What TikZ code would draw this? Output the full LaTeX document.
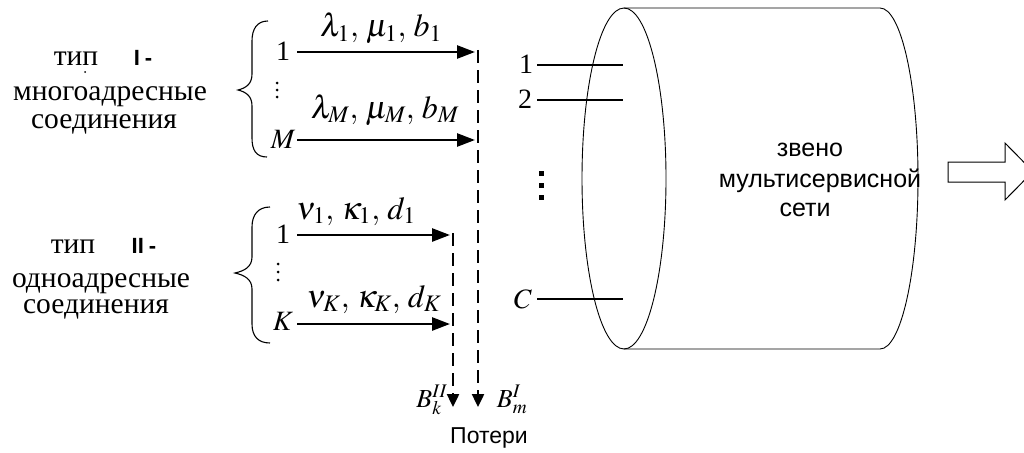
\documentclass[tikz,border=0pt]{standalone}
\usepackage{mathptmx}
\usepackage{fontspec}
\setmainfont{Liberation Serif}
\setsansfont{Liberation Sans}
\usetikzlibrary{arrows.meta}
\tikzset{
  txt/.style={font=\fontsize{29.5}{29.5}\selectfont, inner sep=0pt, anchor=base},
  roman/.style={font=\sffamily\bfseries\fontsize{22}{22}\selectfont, inner sep=0pt, anchor=base},
  mlabel/.style={font=\fontsize{32}{32}\selectfont, inner sep=0pt, anchor=base},
  num/.style={font=\fontsize{28}{28}\selectfont, inner sep=0pt, anchor=base},
  blabel/.style={font=\fontsize{26}{26}\selectfont, inner sep=0pt, anchor=base},
  stxt/.style={font=\sffamily\fontsize{25}{25}\selectfont, inner sep=0pt, anchor=base},
  flow/.style={line width=2.6pt, -{Triangle[length=18pt,width=13pt]}},
  loss/.style={line width=2.4pt, dash pattern=on 13pt off 7pt, -{Triangle[length=13pt,width=12pt]}},
  channel/.style={line width=2.8pt},
  bracepath/.style={line width=1.1pt},
  dotmark/.style={fill=black}
}
\begin{document}
\begin{tikzpicture}[x=1pt,y=-1pt]
\useasboundingbox (0,0) rectangle (1024,452);
\fill[white] (0,0) rectangle (1024,452);

% --- type I text
\node[txt] (t1a) at (76,65) {тип};
\node[roman] (t1b) at (143,65) {I\kern5pt-};
\node[txt] (t1c) at (110,100) {многоадресные};
\node[txt] (t1d) at (104,128) {соединения};
\fill (85,72) circle (1);

% --- type II text
\node[txt] (t2a) at (73,253) {тип};
\node[roman] (t2b) at (144,253) {II\kern5pt-};
\node[txt] (t2c) at (101,287) {одноадресные};
\node[txt] (t2d) at (96,313) {соединения};

% --- braces
\draw[bracepath] (268,21) .. controls (257,21) and (252,29) .. (252,41) -- (252,74)
  .. controls (252,84) and (246,88) .. (238,90)
  .. controls (246,92) and (252,96) .. (252,106) -- (252,138)
  .. controls (252,150) and (256,157) .. (267,157);
\draw[bracepath] (270,207) .. controls (258,207) and (252,215) .. (252,227) -- (252,257)
  .. controls (252,267) and (244,271) .. (235,273)
  .. controls (244,275) and (252,279) .. (252,289) -- (252,324)
  .. controls (252,336) and (258,343) .. (270,343);

% --- type I flows
\node[num] (n11) at (283,60) {1};
\node[num] (n1M) at (283,148) {$M$};
\coordinate (a1s) at (297,52);
\coordinate (a1e) at (475,52);
\coordinate (aMs) at (297,140);
\coordinate (aMe) at (475,140);
\draw[flow] (a1s) -- (a1e);
\draw[flow] (aMs) -- (aMe);
\node[mlabel] (l1) at (381,37) {$\lambda_1,\,\mu_1,\,b_1$};
\node[mlabel] (lM) at (385,118) {$\lambda_M,\,\mu_M,\,b_M$};
\foreach \yy in {83,90,97} \fill[dotmark] (277,\yy) circle (1.5);

% --- type II flows
\node[num] (n21) at (283,243) {1};
\node[num] (n2K) at (283,330) {$K$};
\coordinate (b1s) at (297,235);
\coordinate (b1e) at (450,235);
\coordinate (bKs) at (297,324);
\coordinate (bKe) at (450,324);
\draw[flow] (b1s) -- (b1e);
\draw[flow] (bKs) -- (bKe);
\node[mlabel] (v1) at (356,219) {$\nu_1,\,\kappa_1,\,d_1$};
\node[mlabel] (vK) at (374,307) {$\nu_K,\,\kappa_K,\,d_K$};
\foreach \yy in {264,272,280} \fill[dotmark] (278,\yy) circle (1.5);

% --- loss lines
\coordinate (d1t) at (478,50);
\coordinate (d1b) at (478,407);
\coordinate (d2t) at (453,233);
\coordinate (d2b) at (453,407);
\draw[loss] (d1t) -- (d1b);
\draw[loss] (d2t) -- (d2b);
\node[blabel] (bII) at (432,407) {$B_k^{II}$};
\node[blabel] (bI) at (512,407) {$B_m^{I}$};
\node[font=\sffamily\fontsize{23}{23}\selectfont, inner sep=0pt, anchor=base] (loss) at (489,443) {Потери};

% --- cylinder
\draw[line width=0.9pt] (624,178.5) ellipse [x radius=42, y radius=170.5];
\draw[line width=0.9pt] (624,8) -- (880,8) arc[start angle=-90, end angle=90, x radius=38, y radius=170.5] -- (624,349);
\node[stxt] (z1) at (810,156) {звено};
\node[stxt] (z2) at (820,187) {мультисервисной};
\node[stxt] (z3) at (805,216) {сети};

% --- channels
\node[num] (c1) at (526,73) {1};
\node[num] (c2) at (525,108) {2};
\node[num] (cC) at (523,308) {$C$};
\coordinate (c1s) at (537,65); \coordinate (c1e) at (623,65);
\coordinate (c2s) at (537,100); \coordinate (c2e) at (623,100);
\coordinate (cCs) at (537,299); \coordinate (cCe) at (623,299);
\draw[channel] (c1s) -- (c1e);
\draw[channel] (c2s) -- (c2e);
\draw[channel] (cCs) -- (cCe);
\foreach \yy in {173,185,197} \fill[dotmark] (538.5,\yy-2.5) rectangle (543.5,\yy+2.5);

% --- output arrow
\draw[line width=1pt] (948,162) -- (1005,162) -- (1005,143) -- (1033,171.5) -- (1005,200) -- (1005,182) -- (948,182) -- cycle;
\end{tikzpicture}
\end{document}
